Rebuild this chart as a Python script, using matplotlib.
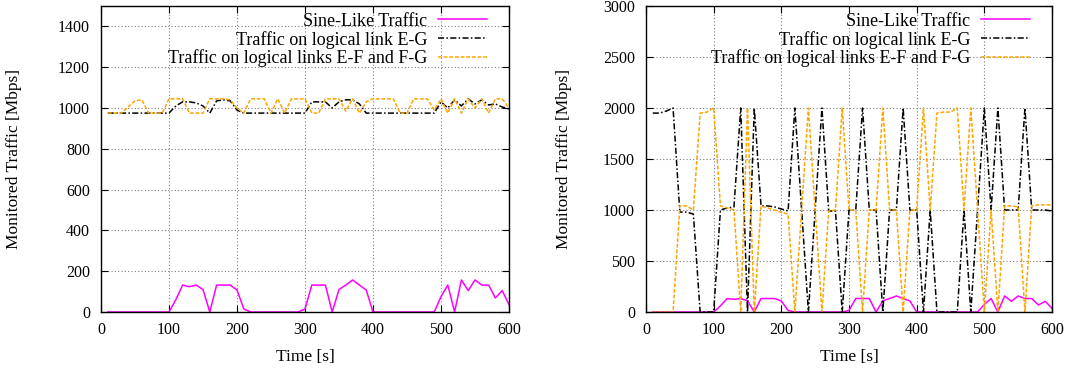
import numpy as np
import matplotlib.pyplot as plt

plt.rcParams['font.family'] = ['Liberation Serif', 'DejaVu Serif']
plt.rcParams['font.size'] = 11.5

# time axis [s], one sample every 10 s
time_s = list(range(10, 601, 10))

# sine-like traffic (same on both panels)
sine_traffic = [
    0, 0, 0, 0, 0, 0, 0, 0, 0, 0,
    60, 132, 124, 132, 110, 0, 132, 132, 132, 108,
    15, 0, 0, 0, 0, 0, 0, 0, 0, 15,
    132, 132, 132, 0, 110, 132, 157, 132, 108, 0,
    0, 0, 0, 0, 0, 0, 0, 0, 0, 75,
    132, 0, 157, 105, 157, 132, 132, 69, 105, 36,
]

# left panel
left_eg = [
    975, 975, 975, 975, 975, 975, 975, 975, 975, 975,
    1010, 1030, 1030, 1025, 1010, 975, 1035, 1040, 1035, 990,
    975, 975, 975, 975, 975, 975, 975, 975, 975, 975,
    1030, 1030, 1030, 1000, 1030, 1040, 1040, 1020, 975, 975,
    975, 975, 975, 975, 975, 975, 975, 975, 975, 1030,
    1000, 1040, 1010, 1045, 1020, 1040, 1015, 1020, 1005, 995,
]
left_efg = [
    975, 975, 975, 1005, 1035, 1040, 975, 975, 975, 1045,
    1045, 1045, 975, 975, 975, 1045, 1045, 1045, 1040, 1000,
    975, 1045, 1045, 1045, 975, 1045, 975, 1045, 1045, 1045,
    975, 975, 1045, 1045, 1045, 985, 1045, 975, 1030, 1045,
    1045, 1045, 1045, 975, 975, 1045, 1045, 1045, 990, 1045,
    975, 1045, 975, 1045, 1000, 1045, 975, 1045, 1045, 1000,
]

# right panel
right_eg = [
    1950, 1950, 1970, 2000, 980, 980, 960, 0, 0, 0,
    1000, 1020, 1030, 2000, 0, 2000, 1040, 1040, 1030, 1010,
    990, 2000, 1000, 0, 1000, 2000, 990, 990, 0, 1000,
    1000, 2000, 1000, 1000, 0, 1000, 1000, 2000, 1000, 1000,
    0, 1000, 0, 0, 0, 0, 1000, 0, 1000, 2000,
    1000, 2000, 1000, 1000, 1000, 2000, 1000, 1000, 1000, 990,
]
right_efg = [
    0, 0, 0, 0, 1040, 1040, 1000, 1950, 1960, 2000,
    1040, 1020, 1000, 0, 2000, 0, 1040, 1020, 1000, 975,
    960, 0, 1000, 2000, 1000, 0, 990, 1000, 2000, 1000,
    1000, 0, 1000, 1000, 2000, 1000, 1000, 0, 1000, 1000,
    2000, 1000, 1950, 1960, 1960, 2000, 1000, 2000, 1000, 0,
    1000, 0, 1040, 1040, 1030, 0, 1040, 1050, 1050, 1050,
]

labels = ['Sine-Like Traffic', 'Traffic on logical link E-G',
          'Traffic on logical links E-F and F-G']
colors = ['#ff00ff', 'black', '#ffa500']
styles = ['-', (0, (4, 1.5, 1, 1.5)), (0, (2.5, 1.2))]

fig = plt.figure(figsize=(10.73, 3.69), dpi=100)
ax_l = fig.add_axes([101/1073, 57/369, 408/1073, 306/369])
ax_r = fig.add_axes([646/1073, 57/369, 406/1073, 306/369])

panels = [
    (ax_l, [sine_traffic, left_eg, left_efg], 1500, np.arange(0, 1401, 200), 101, 408, 22),
    (ax_r, [sine_traffic, right_eg, right_efg], 3000, np.arange(0, 3001, 500), 646, 406, 572),
]

for ax, series, ymax, yticks, x0_px, width_px, ylab_x in panels:
    for vals, lab, c, ls in zip(series, labels, colors, styles):
        ax.plot(time_s, vals, color=c, linestyle=ls, lw=1.1, label=lab)
    ax.set_xlim(0, 600)
    ax.set_ylim(0, ymax)
    ax.set_xticks(np.arange(0, 601, 100))
    ax.set_yticks(yticks)
    ax.grid(True, color='#808080', linestyle=(0, (1, 2)), lw=0.8)
    ax.set_axisbelow(True)
    ax.tick_params(direction='in', length=5, top=True, right=True, width=0.8)
    ax.tick_params(axis='x', pad=7)
    ax.tick_params(axis='y', pad=8)
    for sp in ax.spines.values():
        sp.set_linewidth(1.0)
    ax.set_xlabel('Time [s]', fontsize=12.5, labelpad=8)
    ax.set_ylabel('Monitored Traffic [Mbps]', fontsize=12.5)
    ax.yaxis.set_label_coords((ylab_x - x0_px) / width_px, 0.5)
    ax.legend(loc='upper right', bbox_to_anchor=(1 - 22/width_px, 0.978),
              markerfirst=False, frameon=False, borderpad=0, borderaxespad=0,
              fontsize=13, handlelength=2.7, handletextpad=0.6, labelspacing=0.05)

fig.savefig('out.png', dpi=100)
